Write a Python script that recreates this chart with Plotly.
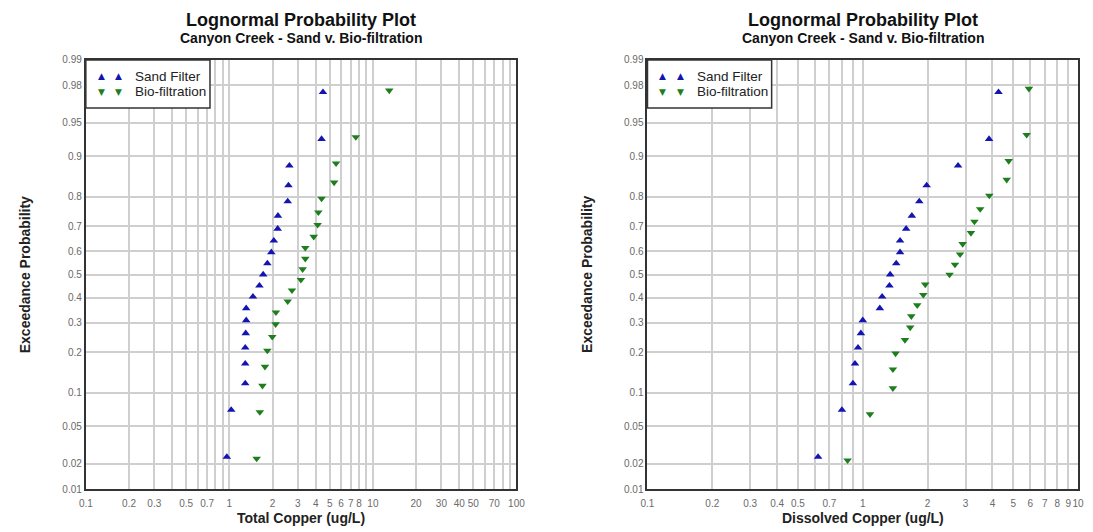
from statistics import NormalDist

import plotly.graph_objects as go
from plotly.subplots import make_subplots

# ---- data -----------------------------------------------------------------
# Plotting-position exceedance probabilities (sorted ascending)
p_sand = [0.024, 0.071, 0.119, 0.167, 0.214, 0.262, 0.310, 0.357, 0.405, 0.452,
          0.500, 0.548, 0.595, 0.643, 0.690, 0.738, 0.786, 0.833, 0.881, 0.929,
          0.976]
p_bio_total = [0.023, 0.068, 0.114, 0.159, 0.205, 0.250, 0.295, 0.341, 0.386,
               0.432, 0.477, 0.523, 0.568, 0.614, 0.659, 0.705, 0.750, 0.795,
               0.841, 0.886, 0.932, 0.977]
p_bio_diss = [0.022, 0.065, 0.109, 0.152, 0.196, 0.239, 0.283, 0.326, 0.370,
              0.413, 0.457, 0.500, 0.543, 0.587, 0.630, 0.674, 0.717, 0.761,
              0.804, 0.848, 0.891, 0.935, 0.978]

# Total copper (ug/L), sorted ascending
sand_total = [0.96, 1.03, 1.29, 1.29, 1.29, 1.30, 1.31, 1.31, 1.46, 1.62, 1.72,
              1.84, 1.96, 2.04, 2.17, 2.18, 2.55, 2.58, 2.62, 4.39, 4.49]
bio_total = [1.55, 1.63, 1.70, 1.77, 1.84, 1.99, 2.10, 2.11, 2.55, 2.73, 3.15,
             3.24, 3.38, 3.38, 3.87, 4.12, 4.17, 4.39, 5.37, 5.54, 7.60, 13.0]

# Dissolved copper (ug/L), sorted ascending
sand_diss = [0.62, 0.80, 0.90, 0.92, 0.95, 0.98, 1.00, 1.20, 1.23, 1.33, 1.34,
             1.43, 1.49, 1.49, 1.59, 1.69, 1.83, 1.98, 2.77, 3.86, 4.27]
bio_diss = [0.85, 1.08, 1.38, 1.38, 1.42, 1.57, 1.66, 1.68, 1.79, 1.91, 1.95,
            2.53, 2.68, 2.83, 2.91, 3.18, 3.30, 3.51, 3.87, 4.66, 4.76, 5.77,
            5.91]

series_names = ["Sand Filter", "Bio-filtration"]

# Axis ticks
prob_ticks = [0.01, 0.02, 0.05, 0.1, 0.2, 0.3, 0.4, 0.5, 0.6, 0.7, 0.8, 0.9,
              0.95, 0.98, 0.99]
prob_labels = ["0.01", "0.02", "0.05", "0.1", "0.2", "0.3", "0.4", "0.5", "0.6",
               "0.7", "0.8", "0.9", "0.95", "0.98", "0.99"]
total_labels = [0.1, 0.2, 0.3, 0.5, 0.7, 1, 2, 3, 4, 5, 6, 7, 8, 10, 20, 30, 40,
                50, 70, 100]
diss_labels = [0.1, 0.2, 0.3, 0.4, 0.5, 0.7, 1, 2, 3, 4, 5, 6, 7, 8, 9, 10]

# ---- helpers ----------------------------------------------------------------
nd = NormalDist()


def probit(ps):
    """Normal-probability scale: map probabilities to standard normal quantiles."""
    return [nd.inv_cdf(p) for p in ps]


def log_grid(lo_exp, hi_exp):
    vals = []
    for e in range(lo_exp, hi_exp):
        for m in range(1, 10):
            vals.append(round(m * 10 ** e, 6))
    vals.append(round(10 ** hi_exp, 6))
    return vals


def x_ticks(lo_exp, hi_exp, labelled):
    grid = log_grid(lo_exp, hi_exp)
    lab = {round(v, 6) for v in labelled}
    return grid, [f"{v:g}" if v in lab else "" for v in grid]


FONT = "Arial, Liberation Sans, sans-serif"
SYM_FONT = "DejaVu Sans, sans-serif"
BLUE = "#1414B0"
GREEN = "#1E7E1E"
GRID = "#CFCFCF"
FRAME = "#333333"
TICK = "#6A6A6A"
W, H = 1093, 532

# plot-area geometry in pixels
left1, right1 = 80, 517
left2, right2 = 650, 1087
top, bottom = 56, 493.4

fig = make_subplots(rows=1, cols=2)

panels = [(1, sand_total, bio_total, p_bio_total),
          (2, sand_diss, bio_diss, p_bio_diss)]
for col, sand, bio, p_bio in panels:
    fig.add_trace(go.Scatter(x=sand, y=probit(p_sand), mode="markers",
                             name=series_names[0], showlegend=False,
                             marker=dict(symbol="triangle-up", size=7.5,
                                         color=BLUE)),
                  row=1, col=col)
    fig.add_trace(go.Scatter(x=bio, y=probit(p_bio), mode="markers",
                             name=series_names[1], showlegend=False,
                             marker=dict(symbol="triangle-down", size=7.5,
                                         color=GREEN)),
                  row=1, col=col)

ydom = [1 - bottom / H, 1 - top / H]
yrange = [nd.inv_cdf(0.01), nd.inv_cdf(0.99)]

common_x = dict(type="log", showgrid=True, gridcolor=GRID, gridwidth=1.5,
                showline=True, mirror=True, linecolor=FRAME, linewidth=2,
                ticks="", zeroline=False, tickangle=0, ticklabelstandoff=4,
                tickfont=dict(family=FONT, size=10, color=TICK))
common_y = dict(range=yrange, domain=ydom, tickmode="array",
                tickvals=probit(prob_ticks), ticktext=prob_labels,
                showgrid=True, gridcolor=GRID, gridwidth=1.5, zeroline=False,
                showline=True, mirror=True, linecolor=FRAME, linewidth=2,
                ticks="", tickfont=dict(family=FONT, size=10, color=TICK))

g1, t1 = x_ticks(-1, 2, total_labels)
g2, t2 = x_ticks(-1, 1, diss_labels)
fig.update_xaxes(common_x, row=1, col=1, range=[-1, 2],
                 domain=[left1 / W, right1 / W], tickmode="array",
                 tickvals=g1, ticktext=t1)
fig.update_xaxes(common_x, row=1, col=2, range=[-1, 1],
                 domain=[left2 / W, right2 / W], tickmode="array",
                 tickvals=g2, ticktext=t2)
fig.update_yaxes(common_y, row=1, col=1)
fig.update_yaxes(common_y, row=1, col=2)


def px(x):
    return x / W


def py(y):
    return 1 - y / H


annotations = []
shapes = []
for (l, r, xlabel, ytx) in [(left1, right1, "Total Copper (ug/L)", 18),
                            (left2, right2, "Dissolved Copper (ug/L)", 588)]:
    cx = px((l + r) / 2)
    annotations += [
        dict(text="<b>Lognormal Probability Plot</b>", x=cx, y=py(15),
             font=dict(family=FONT, size=18, color="#111111")),
        dict(text="<b>Canyon Creek - Sand v. Bio-filtration</b>", x=cx,
             y=py(34), font=dict(family=FONT, size=14, color="#111111")),
        dict(text=f"<b>{xlabel}</b>", x=cx, y=py(523),
             font=dict(family=FONT, size=14, color="#222222")),
        dict(text="<b>Exceedance Probability</b>", x=px(ytx),
             y=py((top + bottom) / 2), textangle=-90,
             font=dict(family=FONT, size=14, color="#222222")),
    ]
    # legend box with paired marker symbols
    shapes.append(dict(type="rect", xref="paper", yref="paper",
                       x0=px(l), x1=px(l + 126), y0=py(top + 49), y1=py(top),
                       line=dict(color=FRAME, width=1.5), fillcolor="white",
                       layer="above"))
    for row_y, sym, color, name in [(top + 16.5, "\u25B2", BLUE, series_names[0]),
                                    (top + 32.5, "\u25BC", GREEN, series_names[1])]:
        for sx in (l + 15.5, l + 33.5):
            annotations.append(dict(text=sym, x=px(sx), y=py(row_y),
                                    font=dict(family=SYM_FONT, size=9,
                                              color=color)))
        annotations.append(dict(text=name, x=px(l + 48), y=py(row_y),
                                xanchor="left",
                                font=dict(family=FONT, size=13.5,
                                          color="#222222")))
for a in annotations:
    a.setdefault("xanchor", "center")
    a.update(xref="paper", yref="paper", showarrow=False, yanchor="middle")

fig.update_layout(width=W, height=H, margin=dict(l=0, r=0, t=0, b=0),
                  paper_bgcolor="white", plot_bgcolor="white",
                  annotations=annotations, shapes=shapes, showlegend=False)

fig.write_html("out.html")
